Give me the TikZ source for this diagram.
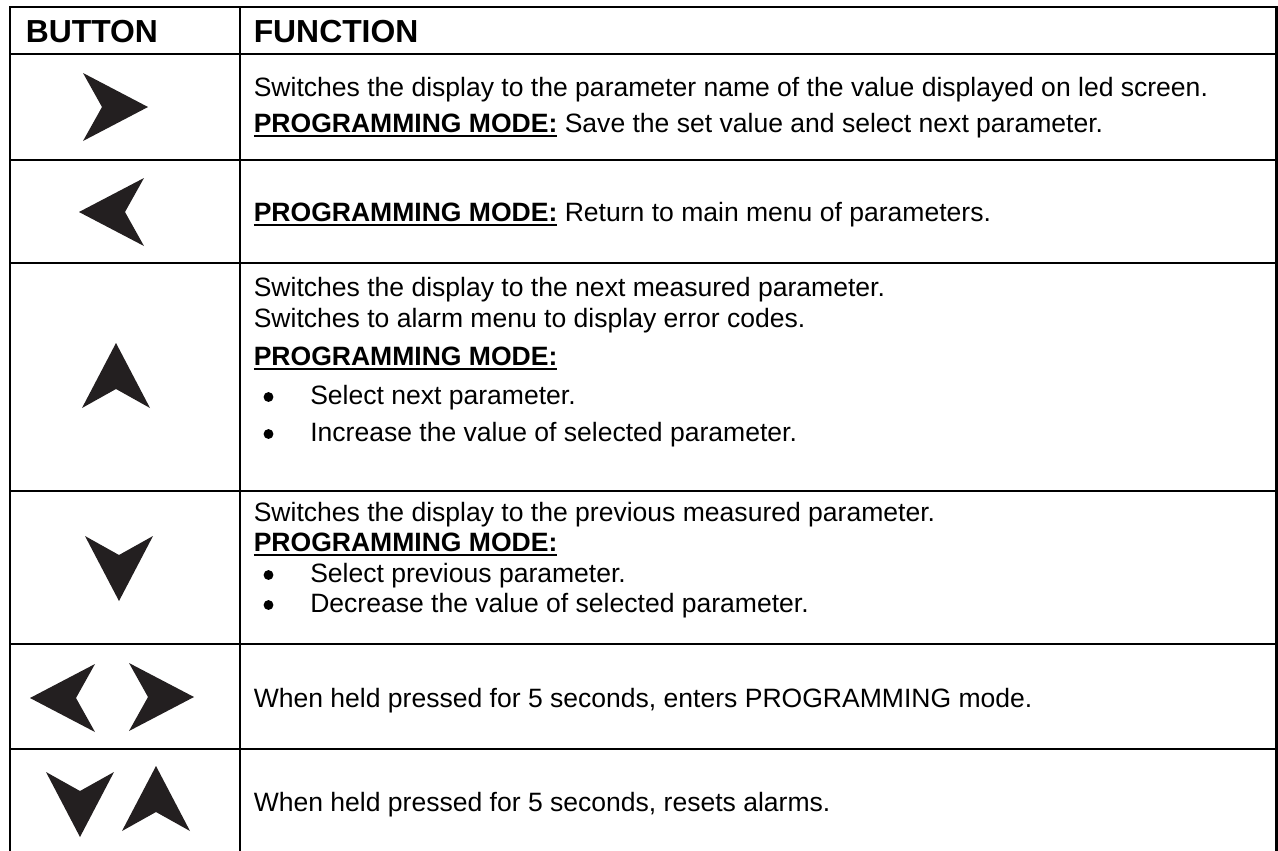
\documentclass[tikz,border=0pt]{standalone}
\usepackage{fontspec}
\setmainfont{Liberation Sans}
\usetikzlibrary{positioning}
\definecolor{RuleBlack}{HTML}{000000}
\definecolor{GlyphBlack}{HTML}{231F20}
\tikzset{
  gridline/.style={line width=1.7pt, draw=RuleBlack, line join=miter},
  headtext/.style={anchor=base west, inner sep=0pt, font=\fontsize{23.9}{28}\selectfont\bfseries},
  celltext/.style={anchor=base west, inner sep=0pt, font=\fontsize{19.9}{24}\selectfont},
  listdot/.style={circle, fill=black, inner sep=0pt, minimum size=7.4pt},
  keyarrow/.style={fill=GlyphBlack}
}
\newcommand{\progmode}{\setbox0=\hbox{\bfseries PROGRAMMING MODE:}\rlap{\rule[-3.6pt]{\wd0}{1.4pt}}\box0}
% arrow key glyph: x, y, direction
\newcommand{\keyglyph}[3]{\fill[keyarrow, shift={(#1,#2)}, rotate=#3] (32,0) -- (-33,34) -- (-14,0) -- (-33,-34) -- cycle;}

\begin{document}
\begin{tikzpicture}[x=0.75pt, y=-0.75pt]
  \useasboundingbox (0,0) rectangle (1278,850);

  % table rules
  \draw[gridline] (10,852) -- (10,7) -- (1276.5,7) -- (1276.5,852);
  \draw[gridline] (240,7) -- (240,852);
  \draw[gridline] (10,54) -- (1276.5,54);
  \draw[gridline] (10,160) -- (1276.5,160);
  \draw[gridline] (10,263) -- (1276.5,263);
  \draw[gridline] (10,491) -- (1276.5,491);
  \draw[gridline] (10,644) -- (1276.5,644);
  \draw[gridline] (10,749) -- (1276.5,749);

  % header
  \node[headtext] (hbutton) at (25.5,42.5) {BUTTON};
  \node[headtext] (hfunction) at (253.5,42.5) {FUNCTION};

  % button glyphs
  \keyglyph{116}{107}{0}
  \keyglyph{111}{212}{180}
  \keyglyph{116}{375}{90}
  \keyglyph{119}{569}{270}
  \keyglyph{62}{698}{180}
  \keyglyph{162}{697}{0}
  \keyglyph{80}{805}{270}
  \keyglyph{156}{798}{90}

  % row 1
  \node[celltext] (nexta) at (253.5,96) {Switches the display to the parameter name of the value displayed on led screen.};
  \node[celltext] (nextb) at (253.5,132) {\progmode{} Save the set value and select next parameter.};
  % row 2
  \node[celltext] (back) at (253.5,221) {\progmode{} Return to main menu of parameters.};
  % row 3
  \node[celltext] (upa) at (253.5,296) {Switches the display to the next measured parameter.};
  \node[celltext] (upb) at (253.5,327) {Switches to alarm menu to display error codes.};
  \node[celltext] (upc) at (253.5,365) {\progmode};
  \node[listdot] (upd) at (268.5,397) {};
  \node[celltext] (upe) at (310,404) {Select next parameter.};
  \node[listdot] (upf) at (268.5,434) {};
  \node[celltext] (upg) at (310,441) {Increase the value of selected parameter.};
  % row 4
  \node[celltext] (downa) at (253.5,521) {Switches the display to the previous measured parameter.};
  \node[celltext] (downb) at (253.5,551) {\progmode};
  \node[listdot] (downc) at (268.5,575) {};
  \node[celltext] (downd) at (310,582) {Select previous parameter.};
  \node[listdot] (downe) at (268.5,605) {};
  \node[celltext] (downf) at (310,612) {Decrease the value of selected parameter.};
  % rows 5 and 6
  \node[celltext] (sides) at (253.5,707.5) {When held pressed for 5 seconds, enters PROGRAMMING mode.};
  \node[celltext] (updown) at (253.5,811) {When held pressed for 5 seconds, resets alarms.};
\end{tikzpicture}
\end{document}
